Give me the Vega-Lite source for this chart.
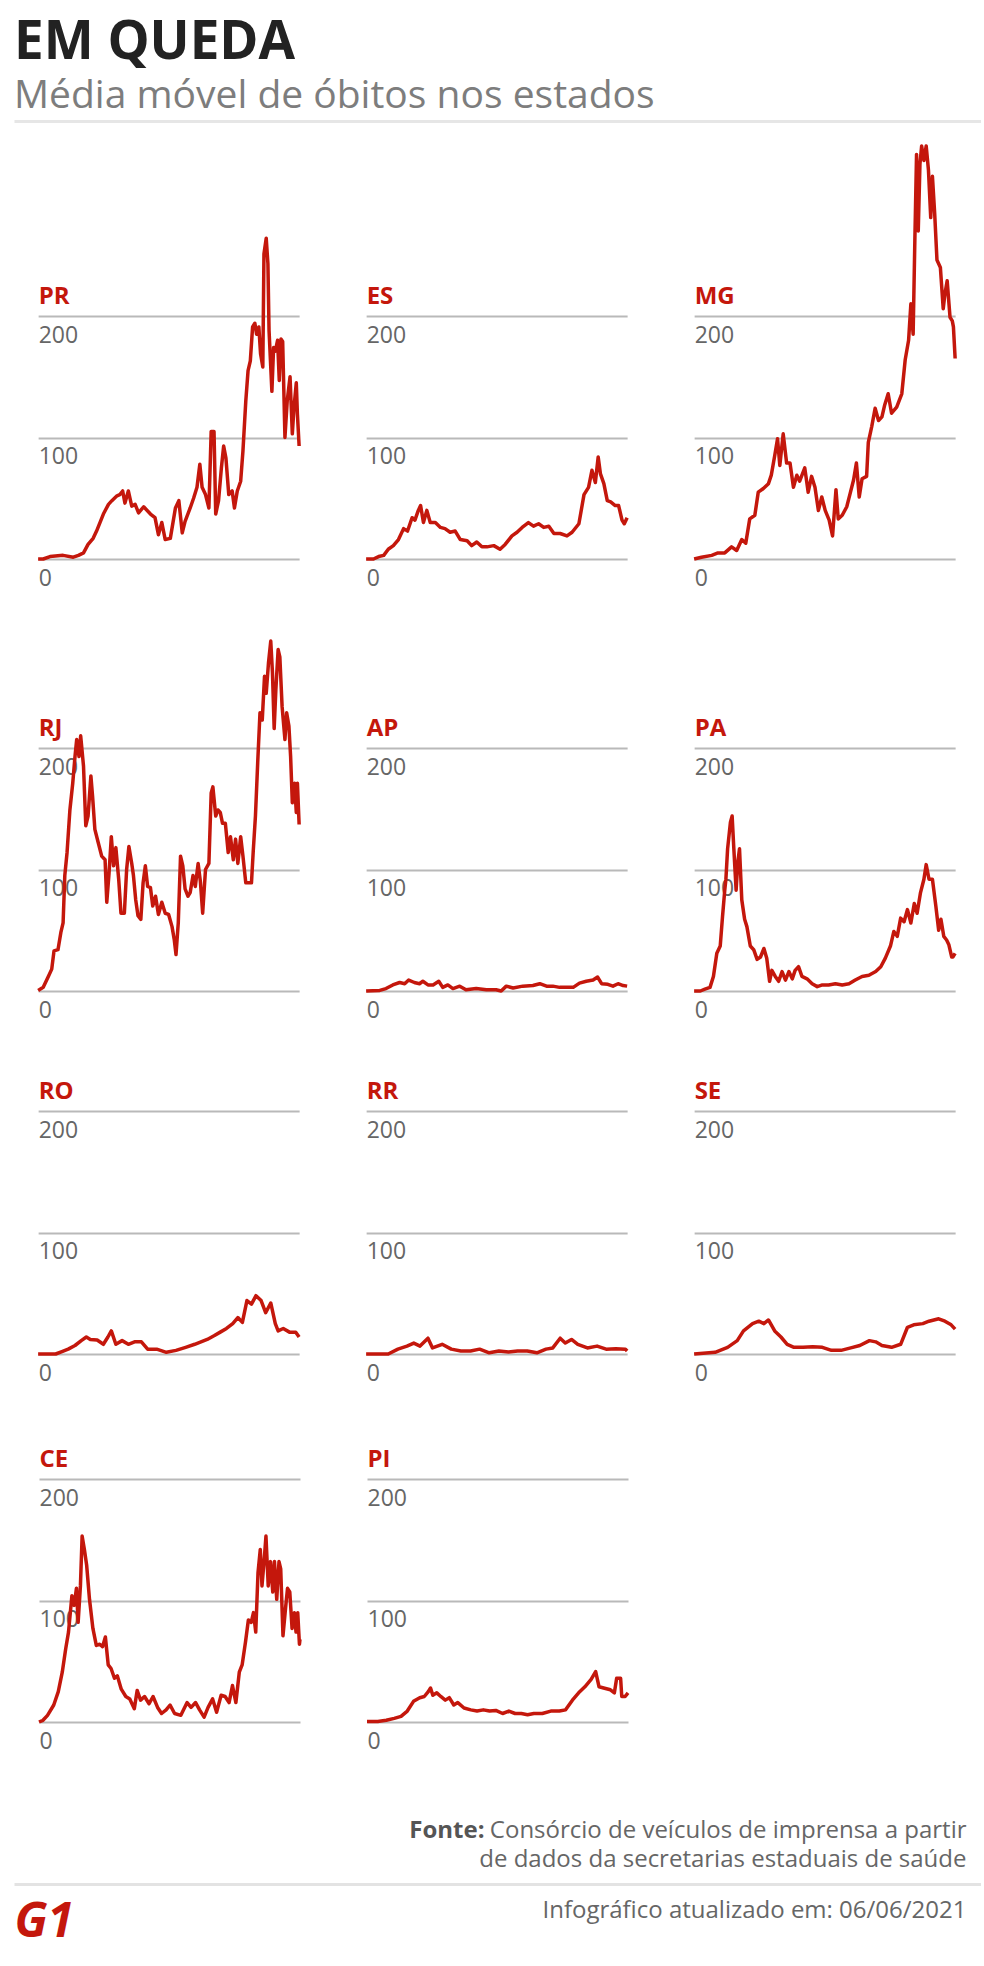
{
"$schema": "https://vega.github.io/schema/vega-lite/v6.json",
"padding": {"left": 14, "top": 16, "right": 0, "bottom": 10},
"background": "white",
"config": {
  "view": {"stroke": null},
  "font": "Open Sans",
  "title": {"font": "Open Sans", "anchor": "start", "frame": "group"},
  "axisY": {"grid": true, "gridColor": "#b9b9b9", "gridWidth": 2, "domain": false, "ticks": false, "tickSize": 0, "labelPadding": 0, "labelAlign": "left", "labelBaseline": "alphabetic", "labelOffset": 26, "labelFontSize": 23, "labelColor": "#666666", "labelFont": "Open Sans", "tickCount": 2},
  "line": {"color": "#c4170c", "strokeWidth": 3.5, "strokeJoin": "round"}
},
"datasets": {
"obitos": [
{"s":"PR","d":0,"v":0},{"s":"PR","d":9,"v":0},{"s":"PR","d":21,"v":2},{"s":"PR","d":44,"v":3},{"s":"PR","d":62,"v":1.5},{"s":"PR","d":71,"v":3},{"s":"PR","d":80,"v":5},{"s":"PR","d":88,"v":12},{"s":"PR","d":97,"v":17},{"s":"PR","d":103,"v":23},{"s":"PR","d":115,"v":37},{"s":"PR","d":124,"v":45},{"s":"PR","d":130,"v":48},{"s":"PR","d":139,"v":52},{"s":"PR","d":144,"v":53},{"s":"PR","d":149,"v":56},{"s":"PR","d":153,"v":46},{"s":"PR","d":159,"v":56},{"s":"PR","d":165,"v":43.5},{"s":"PR","d":171,"v":45},{"s":"PR","d":177,"v":38},{"s":"PR","d":186,"v":43},{"s":"PR","d":198,"v":37},{"s":"PR","d":206,"v":34},{"s":"PR","d":212,"v":20},{"s":"PR","d":218,"v":30},{"s":"PR","d":224,"v":16},{"s":"PR","d":233,"v":17},{"s":"PR","d":242,"v":42},{"s":"PR","d":248,"v":48},{"s":"PR","d":254,"v":21.5},{"s":"PR","d":259,"v":31},{"s":"PR","d":268,"v":42},{"s":"PR","d":274,"v":50},{"s":"PR","d":280,"v":59},{"s":"PR","d":285,"v":78},{"s":"PR","d":289,"v":59},{"s":"PR","d":295,"v":53},{"s":"PR","d":301,"v":42},{"s":"PR","d":305,"v":105},{"s":"PR","d":310,"v":105},{"s":"PR","d":313,"v":37},{"s":"PR","d":318,"v":48},{"s":"PR","d":323,"v":75},{"s":"PR","d":327,"v":93},{"s":"PR","d":331,"v":83},{"s":"PR","d":336,"v":53},{"s":"PR","d":342,"v":56},{"s":"PR","d":346,"v":42},{"s":"PR","d":351,"v":56},{"s":"PR","d":357,"v":64},{"s":"PR","d":361,"v":89},{"s":"PR","d":366,"v":130},{"s":"PR","d":370,"v":155},{"s":"PR","d":374,"v":163},{"s":"PR","d":378,"v":191},{"s":"PR","d":382,"v":194},{"s":"PR","d":385,"v":185},{"s":"PR","d":389,"v":191},{"s":"PR","d":392,"v":169},{"s":"PR","d":396,"v":158},{"s":"PR","d":398,"v":251},{"s":"PR","d":402,"v":264},{"s":"PR","d":405,"v":243},{"s":"PR","d":407,"v":188},{"s":"PR","d":412,"v":138},{"s":"PR","d":415,"v":174},{"s":"PR","d":418,"v":171},{"s":"PR","d":422,"v":180},{"s":"PR","d":425,"v":147},{"s":"PR","d":428,"v":181},{"s":"PR","d":431,"v":179},{"s":"PR","d":435,"v":100},{"s":"PR","d":439,"v":130},{"s":"PR","d":444,"v":150},{"s":"PR","d":448,"v":103},{"s":"PR","d":451,"v":125},{"s":"PR","d":455,"v":145},{"s":"PR","d":457,"v":119},{"s":"PR","d":460,"v":93},
{"s":"ES","d":0,"v":0},{"s":"ES","d":13,"v":0},{"s":"ES","d":22,"v":2},{"s":"ES","d":31,"v":3},{"s":"ES","d":39,"v":8},{"s":"ES","d":48,"v":11},{"s":"ES","d":57,"v":16},{"s":"ES","d":66,"v":25},{"s":"ES","d":73,"v":23},{"s":"ES","d":81,"v":34},{"s":"ES","d":86,"v":32},{"s":"ES","d":92,"v":40},{"s":"ES","d":96,"v":44},{"s":"ES","d":101,"v":30},{"s":"ES","d":107,"v":40},{"s":"ES","d":113,"v":30},{"s":"ES","d":122,"v":30},{"s":"ES","d":131,"v":26},{"s":"ES","d":139,"v":25},{"s":"ES","d":148,"v":22},{"s":"ES","d":157,"v":23},{"s":"ES","d":166,"v":16},{"s":"ES","d":178,"v":15},{"s":"ES","d":186,"v":11},{"s":"ES","d":195,"v":14},{"s":"ES","d":204,"v":10},{"s":"ES","d":213,"v":10},{"s":"ES","d":225,"v":11},{"s":"ES","d":236,"v":8},{"s":"ES","d":245,"v":12},{"s":"ES","d":257,"v":19},{"s":"ES","d":266,"v":22},{"s":"ES","d":275,"v":26},{"s":"ES","d":286,"v":30},{"s":"ES","d":295,"v":27},{"s":"ES","d":304,"v":29},{"s":"ES","d":313,"v":26},{"s":"ES","d":322,"v":27},{"s":"ES","d":331,"v":21},{"s":"ES","d":342,"v":21},{"s":"ES","d":354,"v":19},{"s":"ES","d":363,"v":22},{"s":"ES","d":375,"v":29},{"s":"ES","d":384,"v":53},{"s":"ES","d":392,"v":59},{"s":"ES","d":398,"v":73},{"s":"ES","d":404,"v":63},{"s":"ES","d":409,"v":84},{"s":"ES","d":413,"v":70},{"s":"ES","d":419,"v":62},{"s":"ES","d":425,"v":48},{"s":"ES","d":431,"v":47},{"s":"ES","d":439,"v":44},{"s":"ES","d":445,"v":44},{"s":"ES","d":451,"v":32},{"s":"ES","d":455,"v":29},{"s":"ES","d":460,"v":34},
{"s":"MG","d":0,"v":0},{"s":"MG","d":13,"v":1.4},{"s":"MG","d":31,"v":3},{"s":"MG","d":42,"v":5},{"s":"MG","d":54,"v":5},{"s":"MG","d":66,"v":10},{"s":"MG","d":75,"v":7},{"s":"MG","d":84,"v":16},{"s":"MG","d":91,"v":13},{"s":"MG","d":98,"v":33},{"s":"MG","d":107,"v":36},{"s":"MG","d":113,"v":55},{"s":"MG","d":122,"v":58},{"s":"MG","d":131,"v":62},{"s":"MG","d":136,"v":69},{"s":"MG","d":142,"v":85},{"s":"MG","d":147,"v":99},{"s":"MG","d":151,"v":77},{"s":"MG","d":157,"v":103},{"s":"MG","d":163,"v":79},{"s":"MG","d":169,"v":79},{"s":"MG","d":175,"v":59},{"s":"MG","d":181,"v":69},{"s":"MG","d":186,"v":64},{"s":"MG","d":195,"v":75},{"s":"MG","d":201,"v":55},{"s":"MG","d":207,"v":68},{"s":"MG","d":213,"v":59},{"s":"MG","d":219,"v":40},{"s":"MG","d":225,"v":51},{"s":"MG","d":231,"v":40},{"s":"MG","d":238,"v":32},{"s":"MG","d":244,"v":19},{"s":"MG","d":250,"v":57},{"s":"MG","d":254,"v":33},{"s":"MG","d":261,"v":36},{"s":"MG","d":269,"v":43},{"s":"MG","d":275,"v":54},{"s":"MG","d":281,"v":65},{"s":"MG","d":286,"v":79},{"s":"MG","d":291,"v":51},{"s":"MG","d":296,"v":66},{"s":"MG","d":304,"v":68},{"s":"MG","d":307,"v":96},{"s":"MG","d":313,"v":109},{"s":"MG","d":319,"v":124},{"s":"MG","d":325,"v":114},{"s":"MG","d":331,"v":117},{"s":"MG","d":336,"v":127},{"s":"MG","d":342,"v":136},{"s":"MG","d":348,"v":120},{"s":"MG","d":357,"v":125},{"s":"MG","d":366,"v":136},{"s":"MG","d":372,"v":164},{"s":"MG","d":378,"v":180},{"s":"MG","d":382,"v":210},{"s":"MG","d":386,"v":185},{"s":"MG","d":389,"v":262},{"s":"MG","d":392,"v":333},{"s":"MG","d":395,"v":270},{"s":"MG","d":398,"v":325},{"s":"MG","d":401,"v":340},{"s":"MG","d":405,"v":328},{"s":"MG","d":409,"v":340},{"s":"MG","d":413,"v":320},{"s":"MG","d":417,"v":281},{"s":"MG","d":420,"v":315},{"s":"MG","d":424,"v":284},{"s":"MG","d":428,"v":246},{"s":"MG","d":434,"v":240},{"s":"MG","d":439,"v":206},{"s":"MG","d":442,"v":218},{"s":"MG","d":446,"v":229},{"s":"MG","d":451,"v":199},{"s":"MG","d":455,"v":196},{"s":"MG","d":457,"v":191},{"s":"MG","d":460,"v":165},
{"s":"RJ","d":0,"v":0.5},{"s":"RJ","d":9,"v":3},{"s":"RJ","d":18,"v":12},{"s":"RJ","d":24,"v":18},{"s":"RJ","d":28,"v":33},{"s":"RJ","d":35,"v":34},{"s":"RJ","d":40,"v":48},{"s":"RJ","d":44,"v":56},{"s":"RJ","d":47,"v":95},{"s":"RJ","d":51,"v":114},{"s":"RJ","d":56,"v":149},{"s":"RJ","d":61,"v":171},{"s":"RJ","d":65,"v":193},{"s":"RJ","d":68,"v":207},{"s":"RJ","d":72,"v":193},{"s":"RJ","d":75,"v":210},{"s":"RJ","d":80,"v":185},{"s":"RJ","d":84,"v":136},{"s":"RJ","d":88,"v":144},{"s":"RJ","d":93,"v":177},{"s":"RJ","d":96,"v":160},{"s":"RJ","d":100,"v":133},{"s":"RJ","d":106,"v":122},{"s":"RJ","d":112,"v":111},{"s":"RJ","d":118,"v":108},{"s":"RJ","d":121,"v":73},{"s":"RJ","d":125,"v":97},{"s":"RJ","d":129,"v":127},{"s":"RJ","d":133,"v":103},{"s":"RJ","d":137,"v":118},{"s":"RJ","d":142,"v":92},{"s":"RJ","d":146,"v":64},{"s":"RJ","d":152,"v":64},{"s":"RJ","d":156,"v":100},{"s":"RJ","d":160,"v":119},{"s":"RJ","d":165,"v":105},{"s":"RJ","d":168,"v":95},{"s":"RJ","d":172,"v":75},{"s":"RJ","d":176,"v":62},{"s":"RJ","d":181,"v":59},{"s":"RJ","d":185,"v":89},{"s":"RJ","d":189,"v":103},{"s":"RJ","d":193,"v":86},{"s":"RJ","d":198,"v":85},{"s":"RJ","d":202,"v":70},{"s":"RJ","d":207,"v":78},{"s":"RJ","d":212,"v":63},{"s":"RJ","d":218,"v":73},{"s":"RJ","d":224,"v":64},{"s":"RJ","d":230,"v":63},{"s":"RJ","d":236,"v":53},{"s":"RJ","d":240,"v":42},{"s":"RJ","d":243,"v":30},{"s":"RJ","d":247,"v":56},{"s":"RJ","d":251,"v":111},{"s":"RJ","d":255,"v":103},{"s":"RJ","d":259,"v":84},{"s":"RJ","d":264,"v":78},{"s":"RJ","d":268,"v":81},{"s":"RJ","d":273,"v":95},{"s":"RJ","d":277,"v":86},{"s":"RJ","d":282,"v":105},{"s":"RJ","d":286,"v":90},{"s":"RJ","d":290,"v":64},{"s":"RJ","d":295,"v":100},{"s":"RJ","d":301,"v":105},{"s":"RJ","d":305,"v":163},{"s":"RJ","d":308,"v":168},{"s":"RJ","d":313,"v":144},{"s":"RJ","d":317,"v":149},{"s":"RJ","d":321,"v":147},{"s":"RJ","d":325,"v":138},{"s":"RJ","d":330,"v":138},{"s":"RJ","d":335,"v":114},{"s":"RJ","d":339,"v":127},{"s":"RJ","d":344,"v":108},{"s":"RJ","d":348,"v":125},{"s":"RJ","d":352,"v":105},{"s":"RJ","d":357,"v":127},{"s":"RJ","d":361,"v":111},{"s":"RJ","d":366,"v":89},{"s":"RJ","d":372,"v":89},{"s":"RJ","d":376,"v":89},{"s":"RJ","d":379,"v":114},{"s":"RJ","d":383,"v":144},{"s":"RJ","d":387,"v":188},{"s":"RJ","d":391,"v":229},{"s":"RJ","d":395,"v":223},{"s":"RJ","d":399,"v":259},{"s":"RJ","d":402,"v":245},{"s":"RJ","d":406,"v":270},{"s":"RJ","d":410,"v":288},{"s":"RJ","d":413,"v":262},{"s":"RJ","d":416,"v":216},{"s":"RJ","d":419,"v":248},{"s":"RJ","d":423,"v":281},{"s":"RJ","d":426,"v":275},{"s":"RJ","d":430,"v":234},{"s":"RJ","d":435,"v":207},{"s":"RJ","d":438,"v":229},{"s":"RJ","d":442,"v":218},{"s":"RJ","d":445,"v":193},{"s":"RJ","d":448,"v":155},{"s":"RJ","d":452,"v":171},{"s":"RJ","d":455,"v":147},{"s":"RJ","d":457,"v":171},{"s":"RJ","d":460,"v":137},
{"s":"AP","d":0,"v":0},{"s":"AP","d":24,"v":0.5},{"s":"AP","d":35,"v":2},{"s":"AP","d":47,"v":5},{"s":"AP","d":59,"v":7},{"s":"AP","d":68,"v":6},{"s":"AP","d":75,"v":9},{"s":"AP","d":85,"v":7},{"s":"AP","d":94,"v":6},{"s":"AP","d":100,"v":8},{"s":"AP","d":109,"v":5},{"s":"AP","d":118,"v":5},{"s":"AP","d":128,"v":8},{"s":"AP","d":135,"v":3},{"s":"AP","d":144,"v":5},{"s":"AP","d":153,"v":2},{"s":"AP","d":165,"v":4},{"s":"AP","d":176,"v":1},{"s":"AP","d":194,"v":2},{"s":"AP","d":212,"v":1},{"s":"AP","d":229,"v":1},{"s":"AP","d":238,"v":0},{"s":"AP","d":247,"v":4},{"s":"AP","d":259,"v":2.5},{"s":"AP","d":276,"v":4},{"s":"AP","d":294,"v":4.5},{"s":"AP","d":306,"v":6},{"s":"AP","d":318,"v":4},{"s":"AP","d":329,"v":4},{"s":"AP","d":341,"v":3},{"s":"AP","d":353,"v":3},{"s":"AP","d":365,"v":3},{"s":"AP","d":376,"v":6.5},{"s":"AP","d":388,"v":8},{"s":"AP","d":400,"v":9},{"s":"AP","d":408,"v":11.5},{"s":"AP","d":415,"v":6},{"s":"AP","d":426,"v":5.5},{"s":"AP","d":435,"v":4},{"s":"AP","d":444,"v":6},{"s":"AP","d":453,"v":4.5},{"s":"AP","d":460,"v":4},
{"s":"PA","d":0,"v":0},{"s":"PA","d":11,"v":0},{"s":"PA","d":19,"v":1.5},{"s":"PA","d":28,"v":3},{"s":"PA","d":34,"v":12},{"s":"PA","d":40,"v":31},{"s":"PA","d":46,"v":37},{"s":"PA","d":50,"v":61},{"s":"PA","d":54,"v":83},{"s":"PA","d":56,"v":92},{"s":"PA","d":59,"v":117},{"s":"PA","d":64,"v":139},{"s":"PA","d":67,"v":144},{"s":"PA","d":70,"v":117},{"s":"PA","d":74,"v":83},{"s":"PA","d":77,"v":106},{"s":"PA","d":80,"v":117},{"s":"PA","d":84,"v":75},{"s":"PA","d":89,"v":59},{"s":"PA","d":93,"v":53},{"s":"PA","d":99,"v":37},{"s":"PA","d":105,"v":34},{"s":"PA","d":111,"v":26},{"s":"PA","d":117,"v":28},{"s":"PA","d":123,"v":35},{"s":"PA","d":128,"v":27},{"s":"PA","d":133,"v":8},{"s":"PA","d":137,"v":17},{"s":"PA","d":143,"v":12},{"s":"PA","d":149,"v":8},{"s":"PA","d":155,"v":16},{"s":"PA","d":161,"v":9},{"s":"PA","d":167,"v":16},{"s":"PA","d":173,"v":10},{"s":"PA","d":178,"v":17},{"s":"PA","d":184,"v":20},{"s":"PA","d":190,"v":12},{"s":"PA","d":199,"v":10},{"s":"PA","d":208,"v":6},{"s":"PA","d":217,"v":3.6},{"s":"PA","d":226,"v":5},{"s":"PA","d":237,"v":5},{"s":"PA","d":249,"v":6},{"s":"PA","d":261,"v":5},{"s":"PA","d":273,"v":6},{"s":"PA","d":284,"v":9},{"s":"PA","d":296,"v":12},{"s":"PA","d":308,"v":13},{"s":"PA","d":320,"v":16},{"s":"PA","d":329,"v":20},{"s":"PA","d":337,"v":27},{"s":"PA","d":346,"v":37},{"s":"PA","d":352,"v":49},{"s":"PA","d":358,"v":45},{"s":"PA","d":364,"v":60},{"s":"PA","d":370,"v":57},{"s":"PA","d":376,"v":67},{"s":"PA","d":382,"v":56},{"s":"PA","d":388,"v":72},{"s":"PA","d":393,"v":64},{"s":"PA","d":399,"v":81},{"s":"PA","d":405,"v":92},{"s":"PA","d":409,"v":104},{"s":"PA","d":414,"v":92},{"s":"PA","d":420,"v":92},{"s":"PA","d":426,"v":70},{"s":"PA","d":431,"v":50},{"s":"PA","d":435,"v":59},{"s":"PA","d":440,"v":45},{"s":"PA","d":445,"v":42},{"s":"PA","d":449,"v":38},{"s":"PA","d":454,"v":28},{"s":"PA","d":456,"v":28},{"s":"PA","d":460,"v":31},
{"s":"RO","d":0,"v":0},{"s":"RO","d":31,"v":0},{"s":"RO","d":42,"v":2},{"s":"RO","d":53,"v":4},{"s":"RO","d":65,"v":7},{"s":"RO","d":76,"v":11},{"s":"RO","d":85,"v":14},{"s":"RO","d":92,"v":12},{"s":"RO","d":104,"v":11.5},{"s":"RO","d":115,"v":8},{"s":"RO","d":123,"v":14},{"s":"RO","d":129,"v":19},{"s":"RO","d":137,"v":8},{"s":"RO","d":148,"v":11},{"s":"RO","d":159,"v":8},{"s":"RO","d":170,"v":10},{"s":"RO","d":182,"v":10},{"s":"RO","d":193,"v":4},{"s":"RO","d":209,"v":4},{"s":"RO","d":226,"v":1.4},{"s":"RO","d":243,"v":3},{"s":"RO","d":260,"v":5.5},{"s":"RO","d":276,"v":8},{"s":"RO","d":287,"v":10},{"s":"RO","d":298,"v":12},{"s":"RO","d":310,"v":15},{"s":"RO","d":321,"v":18},{"s":"RO","d":332,"v":21},{"s":"RO","d":343,"v":25},{"s":"RO","d":352,"v":30},{"s":"RO","d":360,"v":26},{"s":"RO","d":368,"v":44},{"s":"RO","d":376,"v":41},{"s":"RO","d":384,"v":48},{"s":"RO","d":393,"v":44},{"s":"RO","d":401,"v":34},{"s":"RO","d":410,"v":42},{"s":"RO","d":418,"v":25},{"s":"RO","d":423,"v":19},{"s":"RO","d":432,"v":21},{"s":"RO","d":443,"v":18},{"s":"RO","d":454,"v":18},{"s":"RO","d":460,"v":14},
{"s":"RR","d":0,"v":0},{"s":"RR","d":39,"v":0},{"s":"RR","d":56,"v":4},{"s":"RR","d":72,"v":6.5},{"s":"RR","d":84,"v":9},{"s":"RR","d":95,"v":6.5},{"s":"RR","d":109,"v":13},{"s":"RR","d":117,"v":5},{"s":"RR","d":134,"v":8},{"s":"RR","d":150,"v":4},{"s":"RR","d":167,"v":2.5},{"s":"RR","d":184,"v":2.5},{"s":"RR","d":200,"v":4},{"s":"RR","d":217,"v":1},{"s":"RR","d":234,"v":2.5},{"s":"RR","d":251,"v":1.6},{"s":"RR","d":267,"v":2.5},{"s":"RR","d":284,"v":2.5},{"s":"RR","d":301,"v":1},{"s":"RR","d":317,"v":4},{"s":"RR","d":329,"v":5},{"s":"RR","d":342,"v":13},{"s":"RR","d":351,"v":9},{"s":"RR","d":362,"v":12},{"s":"RR","d":373,"v":8},{"s":"RR","d":390,"v":5},{"s":"RR","d":407,"v":6.5},{"s":"RR","d":423,"v":4},{"s":"RR","d":440,"v":4.4},{"s":"RR","d":457,"v":4},{"s":"RR","d":460,"v":2.5},
{"s":"SE","d":0,"v":0},{"s":"SE","d":37,"v":1.4},{"s":"SE","d":59,"v":5.5},{"s":"SE","d":76,"v":11},{"s":"SE","d":87,"v":19},{"s":"SE","d":103,"v":25},{"s":"SE","d":114,"v":27},{"s":"SE","d":123,"v":25},{"s":"SE","d":131,"v":28},{"s":"SE","d":142,"v":19},{"s":"SE","d":153,"v":14},{"s":"SE","d":164,"v":8},{"s":"SE","d":176,"v":5.5},{"s":"SE","d":192,"v":5.5},{"s":"SE","d":209,"v":6},{"s":"SE","d":226,"v":5.5},{"s":"SE","d":242,"v":3},{"s":"SE","d":259,"v":3},{"s":"SE","d":276,"v":5},{"s":"SE","d":292,"v":7},{"s":"SE","d":309,"v":11},{"s":"SE","d":320,"v":10},{"s":"SE","d":331,"v":7},{"s":"SE","d":348,"v":5.5},{"s":"SE","d":364,"v":8},{"s":"SE","d":376,"v":22},{"s":"SE","d":387,"v":24},{"s":"SE","d":403,"v":25},{"s":"SE","d":414,"v":27},{"s":"SE","d":431,"v":29},{"s":"SE","d":442,"v":27},{"s":"SE","d":453,"v":24},{"s":"SE","d":460,"v":20.5},
{"s":"CE","d":0,"v":0},{"s":"CE","d":7,"v":1.4},{"s":"CE","d":15,"v":5.5},{"s":"CE","d":26,"v":14},{"s":"CE","d":34,"v":25},{"s":"CE","d":41,"v":41},{"s":"CE","d":47,"v":60},{"s":"CE","d":52,"v":74},{"s":"CE","d":58,"v":104},{"s":"CE","d":62,"v":96},{"s":"CE","d":66,"v":110},{"s":"CE","d":69,"v":82},{"s":"CE","d":73,"v":112},{"s":"CE","d":76,"v":153},{"s":"CE","d":80,"v":142},{"s":"CE","d":84,"v":129},{"s":"CE","d":89,"v":101},{"s":"CE","d":95,"v":77},{"s":"CE","d":101,"v":63},{"s":"CE","d":107,"v":64},{"s":"CE","d":112,"v":62},{"s":"CE","d":117,"v":70},{"s":"CE","d":122,"v":47},{"s":"CE","d":127,"v":44},{"s":"CE","d":133,"v":36},{"s":"CE","d":138,"v":38},{"s":"CE","d":145,"v":27},{"s":"CE","d":153,"v":21},{"s":"CE","d":160,"v":19},{"s":"CE","d":168,"v":11},{"s":"CE","d":173,"v":26},{"s":"CE","d":179,"v":18},{"s":"CE","d":186,"v":21},{"s":"CE","d":194,"v":15},{"s":"CE","d":201,"v":21},{"s":"CE","d":209,"v":12},{"s":"CE","d":216,"v":7},{"s":"CE","d":224,"v":10},{"s":"CE","d":231,"v":14},{"s":"CE","d":239,"v":7},{"s":"CE","d":250,"v":5.5},{"s":"CE","d":261,"v":16},{"s":"CE","d":268,"v":12},{"s":"CE","d":276,"v":16},{"s":"CE","d":283,"v":10},{"s":"CE","d":291,"v":4},{"s":"CE","d":298,"v":12},{"s":"CE","d":306,"v":19},{"s":"CE","d":313,"v":8},{"s":"CE","d":321,"v":22},{"s":"CE","d":328,"v":21},{"s":"CE","d":335,"v":16},{"s":"CE","d":341,"v":30},{"s":"CE","d":347,"v":16},{"s":"CE","d":353,"v":41},{"s":"CE","d":358,"v":47},{"s":"CE","d":364,"v":66},{"s":"CE","d":369,"v":84},{"s":"CE","d":374,"v":82},{"s":"CE","d":378,"v":90},{"s":"CE","d":382,"v":74},{"s":"CE","d":386,"v":123},{"s":"CE","d":390,"v":142},{"s":"CE","d":393,"v":112},{"s":"CE","d":397,"v":134},{"s":"CE","d":400,"v":153},{"s":"CE","d":404,"v":112},{"s":"CE","d":408,"v":132},{"s":"CE","d":412,"v":107},{"s":"CE","d":415,"v":132},{"s":"CE","d":419,"v":101},{"s":"CE","d":423,"v":132},{"s":"CE","d":426,"v":126},{"s":"CE","d":430,"v":71},{"s":"CE","d":435,"v":96},{"s":"CE","d":438,"v":110},{"s":"CE","d":442,"v":107},{"s":"CE","d":446,"v":77},{"s":"CE","d":450,"v":90},{"s":"CE","d":453,"v":74},{"s":"CE","d":456,"v":90},{"s":"CE","d":459,"v":64},{"s":"CE","d":460,"v":68},
{"s":"PI","d":0,"v":0.5},{"s":"PI","d":19,"v":0.5},{"s":"PI","d":34,"v":1.4},{"s":"PI","d":48,"v":3},{"s":"PI","d":60,"v":4.6},{"s":"PI","d":71,"v":9},{"s":"PI","d":82,"v":17},{"s":"PI","d":93,"v":20},{"s":"PI","d":101,"v":21},{"s":"PI","d":108,"v":25},{"s":"PI","d":112,"v":28},{"s":"PI","d":116,"v":22},{"s":"PI","d":123,"v":24},{"s":"PI","d":130,"v":21},{"s":"PI","d":138,"v":18},{"s":"PI","d":145,"v":20},{"s":"PI","d":153,"v":14},{"s":"PI","d":160,"v":16},{"s":"PI","d":171,"v":11.5},{"s":"PI","d":183,"v":10},{"s":"PI","d":194,"v":9},{"s":"PI","d":205,"v":10},{"s":"PI","d":216,"v":9},{"s":"PI","d":227,"v":9.5},{"s":"PI","d":239,"v":7},{"s":"PI","d":250,"v":9},{"s":"PI","d":261,"v":7},{"s":"PI","d":272,"v":7},{"s":"PI","d":283,"v":6},{"s":"PI","d":294,"v":7},{"s":"PI","d":309,"v":7},{"s":"PI","d":324,"v":9},{"s":"PI","d":339,"v":9},{"s":"PI","d":350,"v":10},{"s":"PI","d":362,"v":18},{"s":"PI","d":373,"v":24},{"s":"PI","d":384,"v":29},{"s":"PI","d":395,"v":35},{"s":"PI","d":403,"v":41.5},{"s":"PI","d":409,"v":29},{"s":"PI","d":417,"v":28},{"s":"PI","d":429,"v":26.5},{"s":"PI","d":436,"v":24},{"s":"PI","d":440,"v":36},{"s":"PI","d":447,"v":36},{"s":"PI","d":449,"v":21},{"s":"PI","d":455,"v":21},{"s":"PI","d":460,"v":24}
]
},
"data": {"name": "obitos"},
"center": true,
"spacing": 17,
"vconcat": [
  {
    "width": 967, "height": 6,
    "data": {"values": [{}]},
    "title": {"text": "EM QUEDA", "subtitle": "Média móvel de óbitos nos estados", "fontSize": 53, "fontWeight": "bold", "color": "#222222", "subtitleFont": "Open Sans", "subtitleFontSize": 39, "subtitleColor": "#7d7d7d", "subtitlePadding": 7, "offset": 5.5, "anchor": "start"},
    "mark": {"type": "point", "opacity": 0, "size": 0},
    "encoding": {
      "x": {"datum": 0, "type": "quantitative", "scale": {"domain": [0, 1]}, "axis": {"orient": "top", "domain": true, "domainColor": "#e6e6e6", "domainWidth": 3, "ticks": false, "labels": false, "grid": false, "title": null}}
    }
  },
  {
    "center": true, "spacing": 49,
    "vconcat": [
      {
        "hconcat": [
          {"width": 261, "height": 243, "transform": [{"filter": "datum.s === 'PR'"}], "mark": "line", "encoding": {"x": {"field": "d", "type": "quantitative", "scale": {"domain": [0, 460], "nice": false, "zero": false}, "axis": null}, "y": {"field": "v", "type": "quantitative", "scale": {"domain": [0, 200], "nice": false}, "axis": {"title": "PR", "titleX": 0, "titleY": -13, "titleAngle": 0, "titleAlign": "left", "titleBaseline": "alphabetic", "titleFont": "Open Sans", "titleFontSize": 24, "titleFontWeight": "bold", "titleColor": "#c4170c"}}}},
          {"width": 261, "height": 243, "transform": [{"filter": "datum.s === 'ES'"}], "mark": "line", "encoding": {"x": {"field": "d", "type": "quantitative", "scale": {"domain": [0, 460], "nice": false, "zero": false}, "axis": null}, "y": {"field": "v", "type": "quantitative", "scale": {"domain": [0, 200], "nice": false}, "axis": {"title": "ES", "titleX": 0, "titleY": -13, "titleAngle": 0, "titleAlign": "left", "titleBaseline": "alphabetic", "titleFont": "Open Sans", "titleFontSize": 24, "titleFontWeight": "bold", "titleColor": "#c4170c"}}}},
          {"width": 261, "height": 243, "transform": [{"filter": "datum.s === 'MG'"}], "mark": "line", "encoding": {"x": {"field": "d", "type": "quantitative", "scale": {"domain": [0, 460], "nice": false, "zero": false}, "axis": null}, "y": {"field": "v", "type": "quantitative", "scale": {"domain": [0, 200], "nice": false}, "axis": {"title": "MG", "titleX": 0, "titleY": -13, "titleAngle": 0, "titleAlign": "left", "titleBaseline": "alphabetic", "titleFont": "Open Sans", "titleFontSize": 24, "titleFontWeight": "bold", "titleColor": "#c4170c"}}}}
        ],
        "spacing": 67, "bounds": "flush"
      },
      {
        "center": true, "spacing": 57,
        "vconcat": [
          {
            "hconcat": [
              {"width": 261, "height": 243, "transform": [{"filter": "datum.s === 'RJ'"}], "mark": "line", "encoding": {"x": {"field": "d", "type": "quantitative", "scale": {"domain": [0, 460], "nice": false, "zero": false}, "axis": null}, "y": {"field": "v", "type": "quantitative", "scale": {"domain": [0, 200], "nice": false}, "axis": {"title": "RJ", "titleX": 0, "titleY": -13, "titleAngle": 0, "titleAlign": "left", "titleBaseline": "alphabetic", "titleFont": "Open Sans", "titleFontSize": 24, "titleFontWeight": "bold", "titleColor": "#c4170c"}}}},
              {"width": 261, "height": 243, "transform": [{"filter": "datum.s === 'AP'"}], "mark": "line", "encoding": {"x": {"field": "d", "type": "quantitative", "scale": {"domain": [0, 460], "nice": false, "zero": false}, "axis": null}, "y": {"field": "v", "type": "quantitative", "scale": {"domain": [0, 200], "nice": false}, "axis": {"title": "AP", "titleX": 0, "titleY": -13, "titleAngle": 0, "titleAlign": "left", "titleBaseline": "alphabetic", "titleFont": "Open Sans", "titleFontSize": 24, "titleFontWeight": "bold", "titleColor": "#c4170c"}}}},
              {"width": 261, "height": 243, "transform": [{"filter": "datum.s === 'PA'"}], "mark": "line", "encoding": {"x": {"field": "d", "type": "quantitative", "scale": {"domain": [0, 460], "nice": false, "zero": false}, "axis": null}, "y": {"field": "v", "type": "quantitative", "scale": {"domain": [0, 200], "nice": false}, "axis": {"title": "PA", "titleX": 0, "titleY": -13, "titleAngle": 0, "titleAlign": "left", "titleBaseline": "alphabetic", "titleFont": "Open Sans", "titleFontSize": 24, "titleFontWeight": "bold", "titleColor": "#c4170c"}}}}
            ],
            "spacing": 67, "bounds": "flush"
          },
          {
            "center": true, "spacing": 62,
            "vconcat": [
              {
                "hconcat": [
                  {"width": 261, "height": 243, "transform": [{"filter": "datum.s === 'RO'"}], "mark": "line", "encoding": {"x": {"field": "d", "type": "quantitative", "scale": {"domain": [0, 460], "nice": false, "zero": false}, "axis": null}, "y": {"field": "v", "type": "quantitative", "scale": {"domain": [0, 200], "nice": false}, "axis": {"title": "RO", "titleX": 0, "titleY": -13, "titleAngle": 0, "titleAlign": "left", "titleBaseline": "alphabetic", "titleFont": "Open Sans", "titleFontSize": 24, "titleFontWeight": "bold", "titleColor": "#c4170c"}}}},
                  {"width": 261, "height": 243, "transform": [{"filter": "datum.s === 'RR'"}], "mark": "line", "encoding": {"x": {"field": "d", "type": "quantitative", "scale": {"domain": [0, 460], "nice": false, "zero": false}, "axis": null}, "y": {"field": "v", "type": "quantitative", "scale": {"domain": [0, 200], "nice": false}, "axis": {"title": "RR", "titleX": 0, "titleY": -13, "titleAngle": 0, "titleAlign": "left", "titleBaseline": "alphabetic", "titleFont": "Open Sans", "titleFontSize": 24, "titleFontWeight": "bold", "titleColor": "#c4170c"}}}},
                  {"width": 261, "height": 243, "transform": [{"filter": "datum.s === 'SE'"}], "mark": "line", "encoding": {"x": {"field": "d", "type": "quantitative", "scale": {"domain": [0, 460], "nice": false, "zero": false}, "axis": null}, "y": {"field": "v", "type": "quantitative", "scale": {"domain": [0, 200], "nice": false}, "axis": {"title": "SE", "titleX": 0, "titleY": -13, "titleAngle": 0, "titleAlign": "left", "titleBaseline": "alphabetic", "titleFont": "Open Sans", "titleFontSize": 24, "titleFontWeight": "bold", "titleColor": "#c4170c"}}}}
                ],
                "spacing": 67, "bounds": "flush"
              },
              {
                "center": true, "spacing": 65,
                "vconcat": [
                  {
                    "hconcat": [
                      {"width": 261, "height": 243, "transform": [{"filter": "datum.s === 'CE'"}], "mark": "line", "encoding": {"x": {"field": "d", "type": "quantitative", "scale": {"domain": [0, 460], "nice": false, "zero": false}, "axis": null}, "y": {"field": "v", "type": "quantitative", "scale": {"domain": [0, 200], "nice": false}, "axis": {"title": "CE", "titleX": 0, "titleY": -13, "titleAngle": 0, "titleAlign": "left", "titleBaseline": "alphabetic", "titleFont": "Open Sans", "titleFontSize": 24, "titleFontWeight": "bold", "titleColor": "#c4170c"}}}},
                      {"width": 261, "height": 243, "transform": [{"filter": "datum.s === 'PI'"}], "mark": "line", "encoding": {"x": {"field": "d", "type": "quantitative", "scale": {"domain": [0, 460], "nice": false, "zero": false}, "axis": null}, "y": {"field": "v", "type": "quantitative", "scale": {"domain": [0, 200], "nice": false}, "axis": {"title": "PI", "titleX": 0, "titleY": -13, "titleAngle": 0, "titleAlign": "left", "titleBaseline": "alphabetic", "titleFont": "Open Sans", "titleFontSize": 24, "titleFontWeight": "bold", "titleColor": "#c4170c"}}}},
                      {"width": 261, "height": 243, "data": {"values": [{}]}, "mark": {"type": "point", "opacity": 0, "size": 0}}
                    ],
                    "spacing": 67, "bounds": "flush"
                  },
                  {
                    "width": 967, "height": 60,
                    "data": {"values": [{}]},
                    "layer": [
                      {
                        "mark": {"type": "point", "opacity": 0, "size": 0},
                        "encoding": {
                          "x": {"datum": 0, "type": "quantitative", "scale": {"domain": [0, 1]}, "axis": {"orient": "top", "domain": true, "domainColor": "#e3e3e3", "domainWidth": 3, "ticks": false, "labels": false, "grid": false, "title": ["Consórcio de veículos de imprensa a partir", "de dados da secretarias estaduais de saúde"], "titleX": 952, "titleY": -47, "titleAlign": "right", "titleBaseline": "alphabetic", "titleFont": "Open Sans", "titleFontSize": 24, "titleFontWeight": "normal", "titleColor": "#666666", "titleLineHeight": 29}},
                          "y": {"datum": 0, "type": "quantitative", "scale": {"domain": [0, 1]}, "axis": {"orient": "left", "domain": false, "ticks": false, "labels": false, "grid": false, "title": "G1", "titleX": 0, "titleY": 52, "titleAngle": 0, "titleAlign": "left", "titleBaseline": "alphabetic", "titleFont": "Open Sans", "titleFontSize": 48, "titleFontWeight": "bold", "titleFontStyle": "italic", "titleColor": "#c4170c"}}
                        }
                      },
                      {
                        "mark": {"type": "point", "opacity": 0, "size": 0},
                        "encoding": {
                          "x": {"datum": 0, "type": "quantitative", "scale": {"domain": [0, 1]}, "axis": {"orient": "bottom", "domain": false, "ticks": false, "labels": false, "grid": false, "title": "Infográfico atualizado em: 06/06/2021", "titleX": 952, "titleY": -27, "titleAlign": "right", "titleBaseline": "alphabetic", "titleFont": "Open Sans", "titleFontSize": 24, "titleFontWeight": "normal", "titleColor": "#666666"}},
                          "y": {"datum": 0, "type": "quantitative", "scale": {"domain": [0, 1]}, "axis": {"orient": "right", "domain": false, "ticks": false, "labels": false, "grid": false, "title": "Fonte:", "titleX": -497, "titleY": -47, "titleAngle": 0, "titleAlign": "right", "titleBaseline": "alphabetic", "titleFont": "Open Sans", "titleFontSize": 24, "titleFontWeight": "bold", "titleColor": "#555555"}}
                        }
                      }
                    ],
                    "resolve": {"scale": {"x": "independent", "y": "independent"}, "axis": {"x": "independent", "y": "independent"}}
                  }
                ]
              }
            ]
          }
        ]
      }
    ]
  }
]
}
